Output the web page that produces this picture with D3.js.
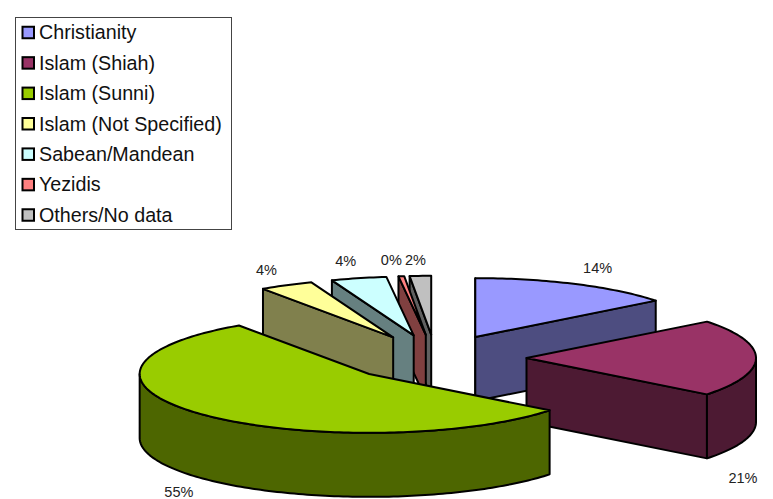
<!DOCTYPE html>
<html>
<head>
<meta charset="utf-8">
<script src="https://cdn.jsdelivr.net/npm/d3@7/dist/d3.min.js"></script>
<style>
html,body{margin:0;padding:0;background:#fff;overflow:hidden}
svg{display:block}
text{font-family:"Liberation Sans",Arial,sans-serif}
</style>
</head>
<body>
<svg id="chart" width="773" height="499"></svg>
<script>
const categories = ["Christianity","Islam (Shiah)","Islam (Sunni)","Islam (Not Specified)","Sabean/Mandean","Yezidis","Others/No data"];
const shares = [14.4,21.2,54.8,3.8,3.9,0.4,1.5];
const topColors = ["#9999ff","#993366","#99cc00","#ffff99","#ccffff","#ff8080","#c0c0c0"];
const drawOrder = [6,5,4,3,0,1,2];
const labelNudges = [[22,-16],[-13,120],[-23,78],[-20,-15],[-13,-17],[-10,-16],[-5,-16]];

const W = 773, H = 499;
const center = [435.5,358], R = 229.5, tilt = 0.2565, depth = 64, explode = 91;
const svg = d3.select("#chart");
const TAU = Math.PI*2;

const x = d3.scaleLinear().domain([-1,1]).range([center[0]-R,center[0]+R]);
const y = d3.scaleLinear().domain([-1,1]).range([center[1]-R*tilt,center[1]+R*tilt]);

const arcs = d3.pie().sort(null).value(d=>d).startAngle(0).endAngle(TAU)(shares);
const line = d3.line().x(d=>d[0]).y(d=>d[1]);
const half = c => { const k=d3.rgb(c); return d3.rgb(k.r/2,k.g/2,k.b/2).formatHex(); };

// position on the ellipse, for a slice pushed out along its mid angle
function project(arc, a, r, dz){
  const m = (arc.startAngle+arc.endAngle)/2, e = explode/R;
  return [ x(r*Math.sin(a)+e*Math.sin(m)), y(-r*Math.cos(a)-e*Math.cos(m))+dz ];
}
function angles(a0,a1){
  const n = Math.max(2,Math.ceil((a1-a0)/0.02));
  return d3.range(n+1).map(i=>a0+(a1-a0)*i/n);
}

const g = svg.append("g").attr("stroke","#000").attr("stroke-width",2).attr("stroke-linejoin","round");
drawOrder.forEach(i=>{
  const arc = arcs[i], top = topColors[i], side = half(top);
  const s = g.append("g").attr("class","slice").attr("data-name",categories[i]);
  // cut faces: only those that turn towards the viewer
  const faces = [];
  if(Math.sin(arc.startAngle) < 1e-6) faces.push(arc.startAngle);
  if(Math.sin(arc.endAngle) > 1e-6) faces.push(arc.endAngle);
  faces.forEach(a=>{
    s.append("path").attr("fill",side).attr("d",line([
      project(arc,0,0,0),project(arc,a,1,0),project(arc,a,1,depth),project(arc,0,0,depth)
    ])+"Z");
  });
  // outer rim: only the part facing the viewer
  const a0 = Math.max(arc.startAngle,TAU/4), a1 = Math.min(arc.endAngle,TAU*3/4);
  if(a1>a0){
    const as = angles(a0,a1);
    s.append("path").attr("fill",side).attr("d",line([
      ...as.map(a=>project(arc,a,1,0)),
      ...as.slice().reverse().map(a=>project(arc,a,1,depth))
    ])+"Z");
  }
  // top face
  s.append("path").attr("fill",top).attr("d",line([
    project(arc,0,0,0),
    ...angles(arc.startAngle,arc.endAngle).map(a=>project(arc,a,1,0))
  ])+"Z");
});

// data labels
svg.append("g").selectAll("text").data(arcs).join("text")
  .attr("text-anchor","middle")
  .attr("font-size",14.5)
  .attr("fill","#222")
  .attr("x",(d,i)=>project(d,(d.startAngle+d.endAngle)/2,1,0)[0]+labelNudges[i][0])
  .attr("y",(d,i)=>project(d,(d.startAngle+d.endAngle)/2,1,0)[1]+labelNudges[i][1]+5)
  .text(d=>Math.round(d.value)+"%");

// legend
const legend = svg.append("g");
legend.append("rect").attr("x",15.5).attr("y",17.5).attr("width",216).attr("height",212)
  .attr("fill","#fff").attr("stroke","#444").attr("stroke-width",1);
const rowY = d3.scalePoint().domain(categories).range([32.5,215]);
const rows = legend.selectAll("g").data(categories).join("g")
  .attr("transform",d=>`translate(0,${rowY(d)})`);
rows.append("rect").attr("x",22.5).attr("y",-5.75).attr("width",11.5).attr("height",11.5)
  .attr("fill",(d,i)=>topColors[i]).attr("stroke","#000").attr("stroke-width",2);
rows.append("text").attr("x",39).attr("y",6.8).attr("font-size",19.7).attr("fill","#111").text(d=>d);
</script>
</body>
</html>
